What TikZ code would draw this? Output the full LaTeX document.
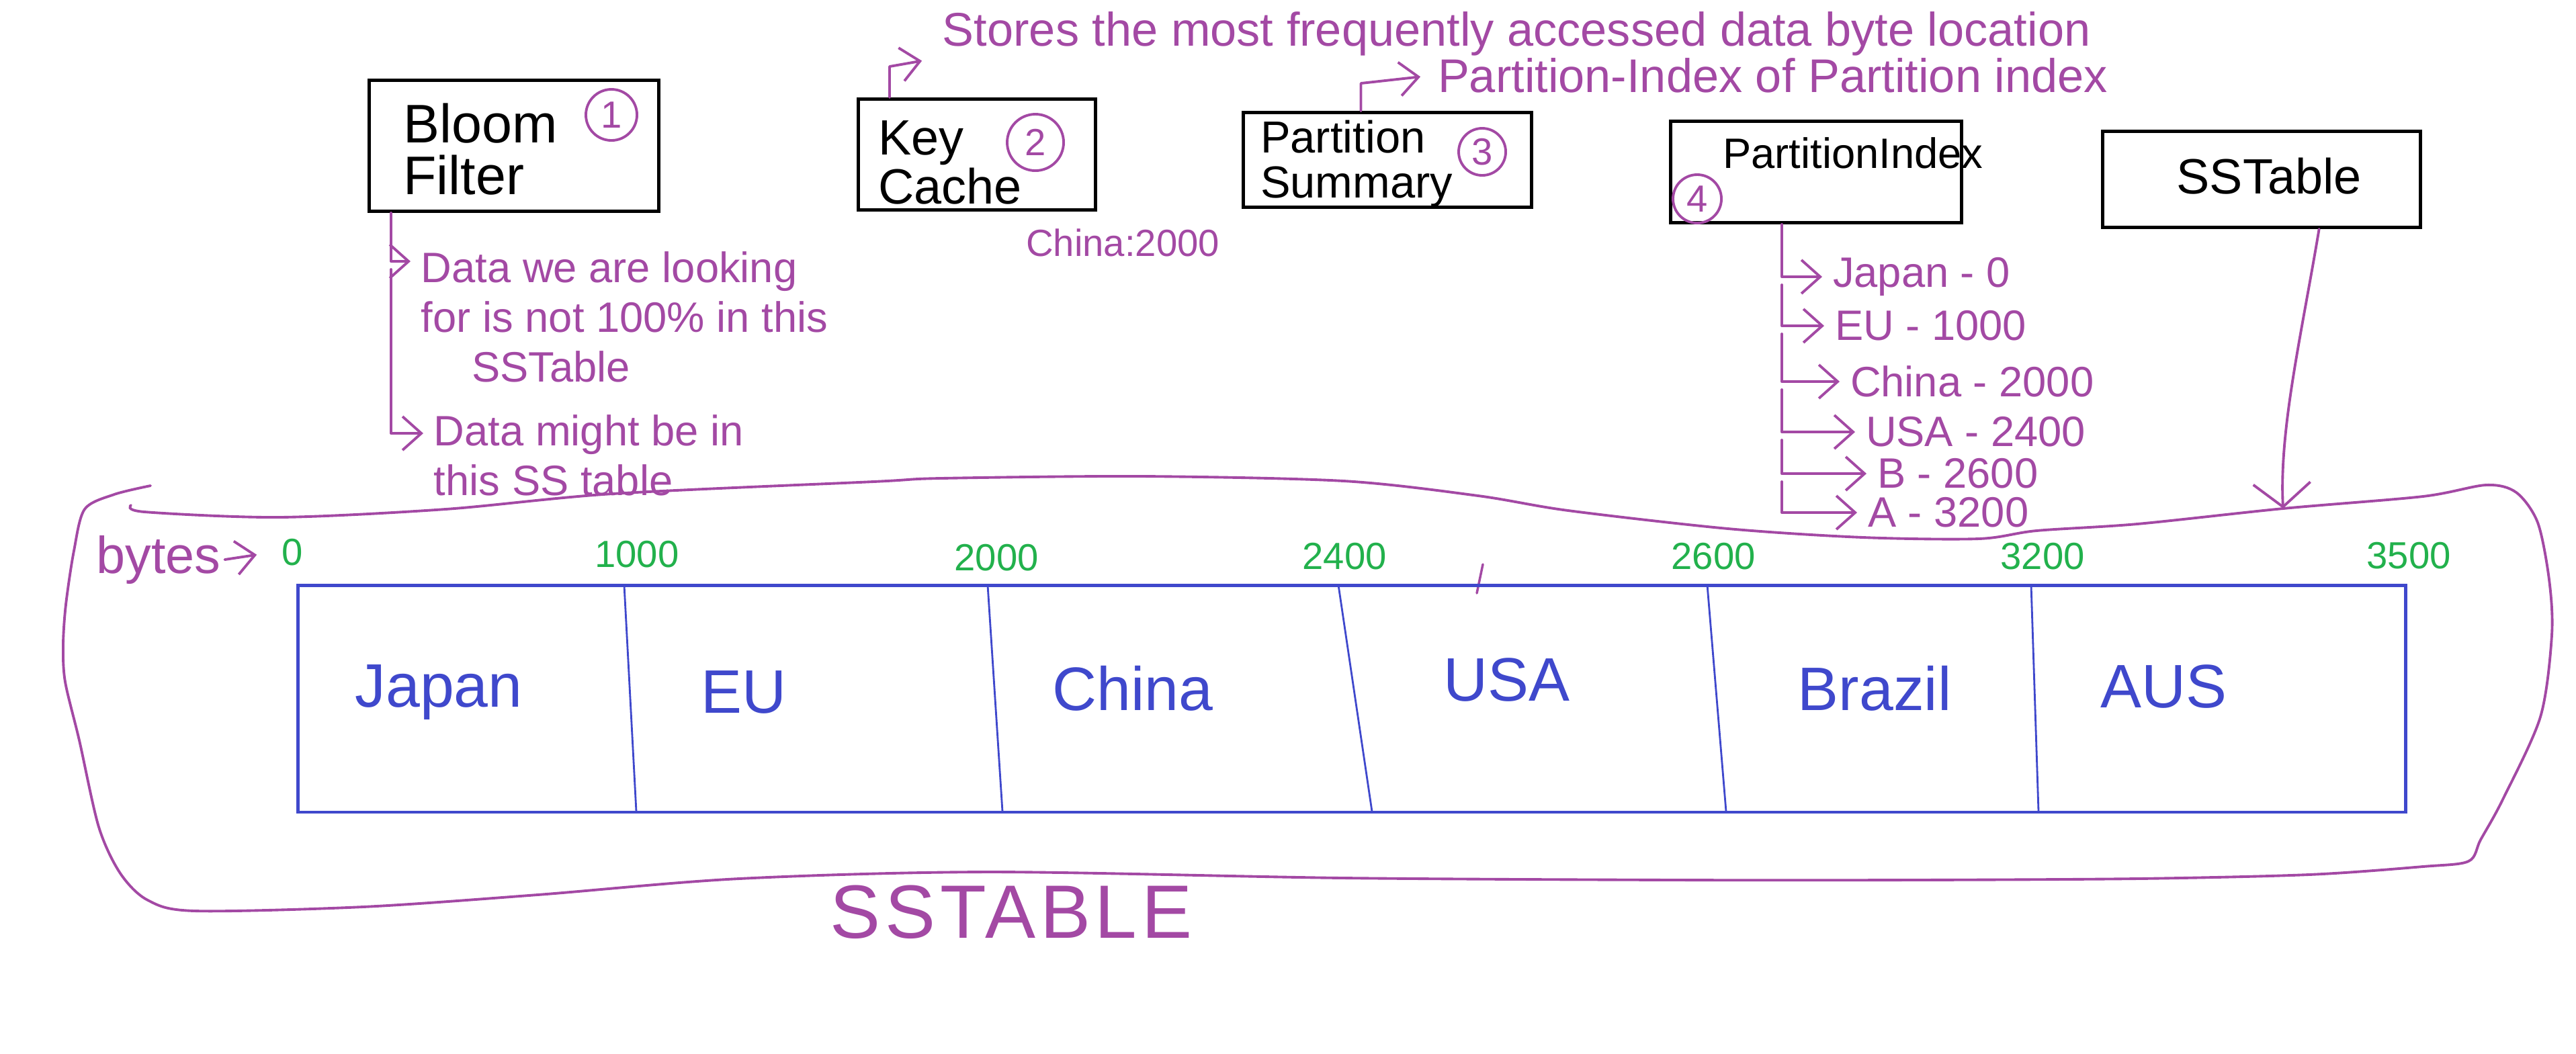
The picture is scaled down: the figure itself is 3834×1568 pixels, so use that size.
\documentclass[tikz,border=0pt]{standalone}
\usepackage{fontspec}
\setmainfont{Liberation Sans}
\usetikzlibrary{arrows.meta}
\definecolor{inkpurple}{RGB}{163,73,164}
\definecolor{inkblue}{RGB}{63,72,204}
\definecolor{inkgreen}{RGB}{34,177,76}

\begin{document}
\begin{tikzpicture}[x=0.01cm,y=-0.01cm,
  compbox/.style={draw,line width=1.4pt},
  boxlabel/.style={align=left,inner sep=1pt,font=\fontsize{23}{22}\selectfont},
  circnum/.style={draw=inkpurple,text=inkpurple,circle,line width=1.1pt,minimum size=0.76cm,inner sep=0pt,font=\fontsize{16}{16}\selectfont},
  inknote/.style={text=inkpurple,inner sep=1.5pt,align=left,font=\fontsize{18}{21}\selectfont},
  inkarrow/.style={draw=inkpurple,line width=1.1pt,line cap=round,line join=round,-{Straight Barb[length=0.28cm,width=0.5cm]},shorten >=0.1cm},
  region/.style={text=inkblue,font=\fontsize{26}{26}\selectfont},
  offlabel/.style={text=inkgreen,font=\fontsize{16}{16}\selectfont}]
\useasboundingbox (0,0) rectangle (3834,1568);

% Bloom Filter
\node[compbox,minimum width=4.3cm,minimum height=1.95cm] (bloom) at (765,217) {};
\node[boxlabel,anchor=west] (bloomtxt) at (596,222) {Bloom\\Filter};
\node[circnum] (c1) at (910,171) {1};
% Key Cache
\node[compbox,minimum width=3.53cm,minimum height=1.65cm] (keycache) at (1454,230) {};
\node[boxlabel,anchor=west,font=\fontsize{21}{19}\selectfont] (kctxt) at (1303,242) {Key\\Cache};
\node[circnum,minimum size=0.84cm] (c2) at (1541,212) {2};
% Partition Summary
\node[compbox,minimum width=4.28cm,minimum height=1.41cm] (psummary) at (2065,238) {};
\node[boxlabel,anchor=west,font=\fontsize{19}{19}\selectfont] (pstxt) at (1872,244) {Partition\\Summary};
\node[circnum,minimum size=0.7cm] (c3) at (2206,226) {3};
% Partition Index
\node[compbox,minimum width=4.33cm,minimum height=1.51cm] (pindex) at (2703,256) {};
\node[boxlabel,anchor=west,font=\fontsize{18}{18}\selectfont] (pitxt) at (2560,228) {PartitionIndex};
\node[circnum,minimum size=0.72cm] (c4) at (2526,296) {4};
% SSTable
\node[compbox,minimum width=4.72cm,minimum height=1.43cm] (sstable) at (3366,267) {};
\node[boxlabel,font=\fontsize{21}{21}\selectfont] (sstxt) at (3377,262) {SSTable};

% notes on top
\node[inknote,anchor=west,font=\fontsize{20}{20}\selectfont] (stores) at (1397,50) {Stores the most frequently accessed data byte location};
\draw[inkarrow] ([xshift=0.49cm]keycache.north west) -- ++(0,-46) -- ([xshift=-0.15cm]stores.south west);
\node[inknote,anchor=west,font=\fontsize{20}{20}\selectfont] (pnote) at (2134,112) {Partition-Index of Partition index};
\draw[inkarrow,shorten >=0.2cm] ([xshift=1.77cm]psummary.north west) -- ++(0,-41) -- (pnote.west);
\node[inknote,font=\fontsize{16}{16}\selectfont] (kcval) at (1671,361) {China:2000};

% bloom filter notes
\node[inknote,anchor=north west] (note1) at (621,369) {Data we are looking\\for is not 100\% in this\\\hspace*{0.75cm}SSTable};
\node[inknote,anchor=north west] (note2) at (640,612) {Data might be in\\this SS table};
\coordinate (brail) at (582,0);
\draw[inkarrow] (brail |- bloom.south) |- ([yshift=-0.2cm]note1.north west);
\draw[inkarrow] ([yshift=-0.32cm]brail |- note1.north west) |- ([yshift=-0.33cm]note2.north west);

% partition index entries
\foreach \n/\x/\y/\lbl in {pj/2722/412/Japan - 0,peu/2725/485/EU - 1000,pch/2748/568/China - 2000,pus/2771/643/USA - 2400,pbr/2788/705/B - 2600,pau/2774/763/A - 3200}
  \node[inknote,anchor=west] (\n) at (\x,\y) {\lbl};
\coordinate (rail) at (2652,0);
\draw[inkarrow] (rail |- pindex.south) |- (pj.west);
\foreach \a/\b in {pj/peu,peu/pch,pch/pus,pus/pbr,pbr/pau}
  \draw[inkarrow] ([yshift=-0.12cm]rail |- \a.west) |- (\b.west);

% sstable outline
\draw[inkpurple,line width=1.1pt,line cap=round] plot[smooth,tension=0.5] coordinates {
  (224,723) (170,736) (126,758) (110,820) (98,900) (94,960) (97,1015) (118,1102)
  (147,1231) (179,1300) (220,1340) (290,1356) (540,1350) (800,1332) (1100,1308)
  (1473,1298) (2000,1307) (2500,1310) (2840,1310) (3181,1308) (3436,1302) (3606,1290)
  (3674,1282) (3692,1250) (3725,1190) (3781,1067) (3798,945) (3794,863) (3777,778)
  (3745,733) (3700,722) (3606,739) (3398,757) (3181,780) (3031,790) (2945,802)
  (2773,800) (2572,787) (2334,760) (2200,738) (2000,716) (1700,709) (1400,712)
  (1300,717) (912,735) (663,758) (415,770) (215,762) (195,752)};
\draw[inkpurple,line width=1pt,line cap=round] (2207,840) -- (2198,883);
\coordinate (hit) at (3398,757);
\draw[inkarrow,shorten >=0pt,-{Straight Barb[length=0.35cm,width=0.85cm]}] ([xshift=3.24cm]sstable.south west) .. controls (3425,500) and (3392,640) .. (hit);
\node[text=inkpurple,font=\fontsize{32}{32}\selectfont\addfontfeatures{LetterSpace=6}] (title) at (1505,1358) {SSTABLE};

% byte offsets
\node[compbox,draw=inkblue,line width=1.2pt,minimum width=31.35cm,minimum height=3.37cm] (sstframe) at (2012,1040) {};
\foreach \t/\b in {929/947,1470/1492,1992/2042,2541/2569,3023/3034}
  \draw[inkblue,line width=0.8pt] (\t,871) -- (\b,1208);
\foreach \x/\y/\v [count=\i] in {435/822/0,948/825/1000,1483/830/2000,2001/828/2400,2550/828/2600,3040/828/3200,3585/827/3500}
  \node[offlabel] (off\i) at (\x,\y) {\v};
\node[inknote,font=\fontsize{22}{22}\selectfont] (bytes) at (236,833) {bytes};
\draw[inkarrow,shorten >=0.25cm] (bytes.east) -- (off1.west);
\foreach \n/\x/\y/\lbl in {japan/653/1030/Japan,eu/1107/1030/EU,china/1686/1025/China,usa/2242/1012/USA,brazil/2790/1025/Brazil,aus/3220/1022/AUS}
  \node[region] (\n) at (\x,\y) {\lbl};
\end{tikzpicture}
\end{document}
